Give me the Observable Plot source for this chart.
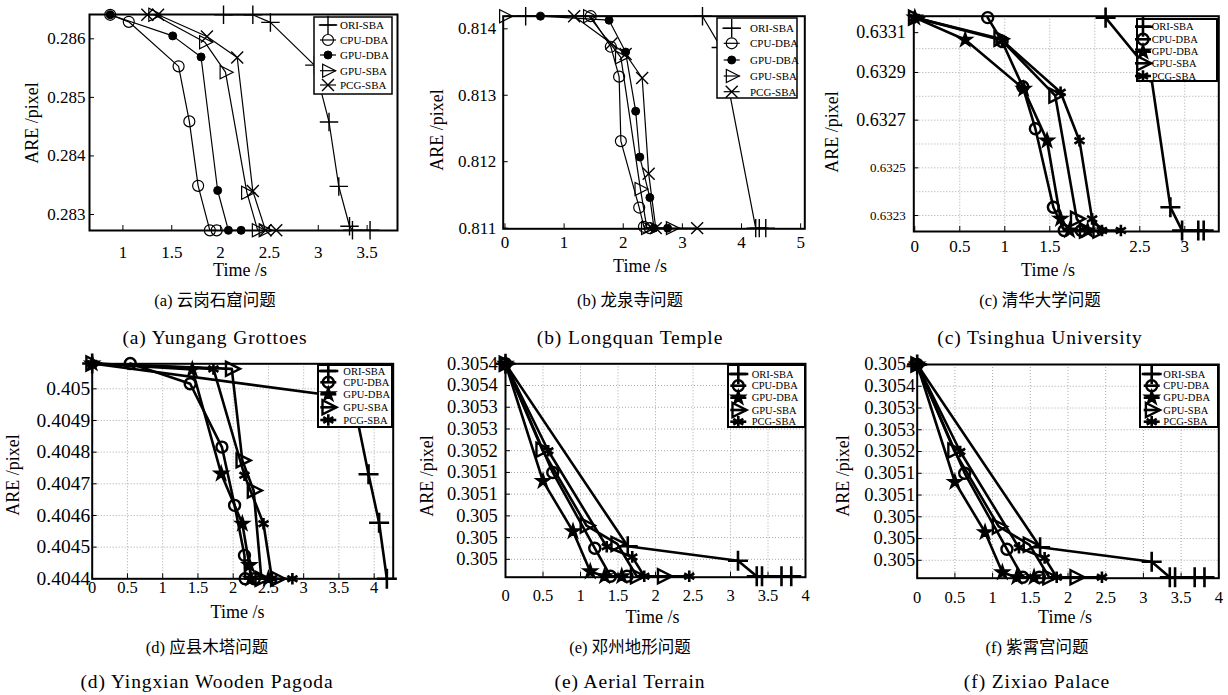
<!DOCTYPE html>
<html><head><meta charset="utf-8">
<script src="https://cdn.jsdelivr.net/npm/d3@7"></script>
<script src="https://cdn.jsdelivr.net/npm/@observablehq/plot@0.6"></script>
<style>
html,body{margin:0;padding:0;background:#fff;}
#wrap{position:relative;width:1228px;height:695px;overflow:hidden;background:#fff;}
</style></head><body><div id="wrap"></div>
<script>
const SERIES = ["ORI-SBA","CPU-DBA","GPU-DBA","GPU-SBA","PCG-SBA"];
const X_TITLE = "Time /s";
const Y_TITLE = "ARE /pixel";

// (a) Yungang Grottoes  [time s, ARE pixel]
const a_ORI  = [[2.03,0.28641],[2.33,0.28641],[2.51,0.28628],[2.96,0.28555],[3.11,0.28458],[3.21,0.28348],[3.32,0.28280],[3.35,0.28273],[3.53,0.28273]];
const a_CPU  = [[0.87,0.28641],[1.06,0.28629],[1.57,0.28553],[1.68,0.28459],[1.77,0.28349],[1.89,0.28273],[1.96,0.28273]];
const a_GDBA = [[0.87,0.28641],[1.51,0.28605],[1.80,0.28569],[1.97,0.28341],[2.08,0.28273],[2.21,0.28273]];
const a_GSBA = [[1.32,0.28641],[1.84,0.28594],[2.05,0.28543],[2.27,0.28337],[2.38,0.28273],[2.45,0.28273]];
const a_PCG  = [[1.25,0.28641],[1.36,0.28641],[1.86,0.28604],[2.17,0.28568],[2.33,0.28340],[2.46,0.28273],[2.57,0.28273]];
const aXTicks = [1,1.5,2,2.5,3,3.5];
const aXLabels = ["1","1.5","2","2.5","3","3.5"];
const aYTicks = [0.283,0.284,0.285,0.286];
const aYLabels = ["0.283","0.284","0.285","0.286"];

// (b) Longquan Temple
const b_ORI  = [[0.35,0.81419],[3.34,0.81419],[3.65,0.81372],[4.24,0.81100],[4.30,0.81100],[4.41,0.81100]];
const b_CPU  = [[1.45,0.81419],[1.79,0.81373],[1.93,0.81328],[1.96,0.81231],[2.27,0.81131],[2.35,0.81102],[2.45,0.81100]];
const b_GDBA = [[0.60,0.81419],[1.76,0.81413],[2.04,0.81365],[2.21,0.81276],[2.28,0.81207],[2.45,0.81146],[2.52,0.81100],[2.75,0.81100]];
const b_GSBA = [[0.00,0.81419],[1.42,0.81419],[1.96,0.81357],[2.29,0.81159],[2.40,0.81100],[2.82,0.81100]];
const b_PCG  = [[1.17,0.81419],[1.80,0.81378],[2.04,0.81362],[2.32,0.81326],[2.43,0.81182],[2.55,0.81100],[3.25,0.81100]];
const bXTicks = [0,1,2,3,4,5];
const bXLabels = ["0","1","2","3","4","5"];
const bYTicks = [0.811,0.812,0.813,0.814];
const bYLabels = ["0.811","0.812","0.813","0.814"];

// (c) Tsinghua University
const c_ORI  = [[2.12,0.63313],[2.62,0.63290],[2.84,0.632335],[2.97,0.632237],[3.15,0.632237],[3.21,0.632237]];
const c_CPU  = [[0.81,0.63313],[0.97,0.63303],[1.20,0.63284],[1.34,0.632664],[1.54,0.632335],[1.66,0.632237],[1.85,0.632237]];
const c_GDBA = [[0.00,0.63313],[0.56,0.633037],[1.21,0.632831],[1.47,0.632614],[1.62,0.632286],[1.72,0.632237],[1.92,0.632237]];
const c_GSBA = [[0.00,0.63313],[0.95,0.633041],[1.56,0.632803],[1.80,0.632286],[1.90,0.632237],[2.05,0.632237]];
const c_PCG  = [[0.00,0.63313],[0.97,0.633035],[1.62,0.632817],[1.83,0.632614],[1.97,0.632286],[2.08,0.632237],[2.29,0.632237]];
const cXTicks = [0,0.5,1,1.5,2.5,3];
const cXLabels = ["0","0.5","1","1.5","2.5","3"];
const cXGrid = [0.5,1,1.5,2,2.5,3];
const cYTicks = [0.6323,0.6325,0.6327,0.6329,0.633067];
const cYLabels = ["0.6323","0.6325","0.6327","0.6329","0.6331"];
const cYGrid = [0.6323,0.6324,0.6325,0.6326,0.6327,0.6328,0.6329,0.6330];

// (d) Yingxian Wooden Pagoda
const d_ORI  = [[0.00,0.40508],[3.70,0.40497],[3.92,0.40473],[4.07,0.404577],[4.18,0.40440]];
const d_CPU  = [[0.54,0.40508],[1.39,0.405016],[1.84,0.404816],[2.02,0.404632],[2.16,0.404474],[2.17,0.40440],[2.30,0.40440]];
const d_GDBA = [[0.00,0.40508],[1.42,0.405061],[1.83,0.404732],[2.13,0.404574],[2.23,0.404443],[2.25,0.40440],[2.50,0.40440]];
const d_GSBA = [[0.00,0.40508],[1.98,0.405063],[2.13,0.404774],[2.29,0.404679],[2.40,0.40440],[2.62,0.40440]];
const d_PCG  = [[0.00,0.40508],[1.72,0.405063],[2.16,0.404727],[2.43,0.404574],[2.55,0.40440],[2.84,0.40440]];
const dXTicks = [0,0.5,1,1.5,2,2.5,3,3.5,4];
const dXLabels = ["0","0.5","1","1.5","2","2.5","3","3.5","4"];
const dYTicks = [0.4044,0.4045,0.4046,0.4047,0.4048,0.4049,0.4050];
const dYLabels = ["0.4044","0.4045","0.4046","0.4047","0.4048","0.4049","0.405"];

// (e) Aerial Terrain
const e_ORI  = [[0.00,0.30542],[1.63,0.305042],[3.10,0.305012],[3.35,0.30498],[3.42,0.30498],[3.68,0.30498],[3.81,0.30498]];
const e_CPU  = [[0.00,0.30542],[0.63,0.305195],[1.19,0.305038],[1.40,0.30498],[1.62,0.30498]];
const e_GDBA = [[0.00,0.30542],[0.50,0.305177],[0.90,0.305073],[1.13,0.30499],[1.32,0.30498],[1.55,0.30498]];
const e_GSBA = [[0.00,0.30542],[0.49,0.305242],[1.08,0.305085],[1.49,0.305047],[1.75,0.30498],[2.11,0.30498]];
const e_PCG  = [[0.00,0.30542],[0.57,0.30524],[1.35,0.305041],[1.69,0.30502],[1.85,0.30498],[2.45,0.30498]];
const eXTicks = [0,0.5,1,1.5,2,2.5,3,3.5,4];
const eXLabels = ["0","0.5","1","1.5","2","2.5","3","3.5","4"];
const eYTicks = [0.30542,0.305375,0.30533,0.305285,0.30524,0.305195,0.30515,0.305105,0.30506,0.305015];
const eYLabels = ["0.3054","0.3054","0.3053","0.3053","0.3052","0.3051","0.3051","0.305","0.305","0.305"];

// (f) Zixiao Palace
const f_ORI  = [[0.00,0.30542],[1.63,0.305042],[3.11,0.305012],[3.35,0.30498],[3.42,0.30498],[3.68,0.30498],[3.81,0.30498]];
const f_CPU  = [[0.00,0.30542],[0.63,0.305195],[1.19,0.305038],[1.40,0.30498],[1.62,0.30498]];
const f_GDBA = [[0.00,0.30542],[0.50,0.305177],[0.90,0.305073],[1.13,0.30499],[1.32,0.30498],[1.55,0.30498]];
const f_GSBA = [[0.00,0.30542],[0.49,0.305242],[1.08,0.305085],[1.49,0.305047],[1.75,0.30498],[2.11,0.30498]];
const f_PCG  = [[0.00,0.30542],[0.57,0.30524],[1.35,0.305041],[1.69,0.30502],[1.85,0.30498],[2.45,0.30498]];
const fXTicks = eXTicks, fXLabels = eXLabels, fYTicks = eYTicks, fYLabels = eYLabels;

const captionsZh = ["(a) 云岗石窟问题","(b) 龙泉寺问题","(c) 清华大学问题","(d) 应县木塔问题","(e) 邓州地形问题","(f) 紫霄宫问题"];
const captionsEn = ["(a) Yungang Grottoes","(b) Longquan Temple","(c) Tsinghua University","(d) Yingxian Wooden Pagoda","(e) Aerial Terrain","(f) Zixiao Palace"];

// ---------- styling ----------
const SERIF = "Liberation Serif, Times New Roman, serif";
const triRight = { draw(ctx, size) { const s = Math.sqrt(size) * 0.72; ctx.moveTo(s, 0); ctx.lineTo(-s * 0.7, -s * 0.85); ctx.lineTo(-s * 0.7, s * 0.85); ctx.closePath(); } };
const THIN = { lw: 1.2, m: [
  {sym: d3.symbolPlus, r: 6, fill: "none", sw: 1.4},
  {sym: d3.symbolCircle, r: 5.5, fill: "none", sw: 1.2},
  {sym: d3.symbolCircle, r: 4, fill: "#000", sw: 1},
  {sym: triRight, r: 6, fill: "none", sw: 1.2},
  {sym: d3.symbolTimes, r: 5.5, fill: "none", sw: 1.4}]};
const THICK = { lw: 2.6, m: [
  {sym: d3.symbolPlus, r: 6.5, fill: "none", sw: 2.6},
  {sym: d3.symbolCircle, r: 5.5, fill: "none", sw: 2.4},
  {sym: d3.symbolStar, r: 4.5, fill: "#000", sw: 1.5},
  {sym: triRight, r: 6.5, fill: "none", sw: 2.4},
  {sym: d3.symbolAsterisk, r: 5.5, fill: "none", sw: 2.6}]};

const panels = [
 {series:[a_ORI,a_CPU,a_GDBA,a_GSBA,a_PCG], xT:aXTicks, xL:aXLabels, yT:aYTicks, yL:aYLabels, xG:null, yG:null,
  left:0, top:0, width:410, height:265, mL:89, mR:13, mT:14, mB:35, xDom:[0.658,3.811], yDom:[0.282727,0.286415],
  thick:false, xFont:17, yFont:17, xPad:15, yPad:4,
  lg:{x:314,y:17,w:78,h:77,rows:[25,40,55,70.7,85],mx:328,tx:340,fs:11},
  ylab:[32,123], xlab:[240,270], cap:[215,300,337]},
 {series:[b_ORI,b_CPU,b_GDBA,b_GSBA,b_PCG], xT:bXTicks, xL:bXLabels, yT:bYTicks, yL:bYLabels, xG:null, yG:null,
  left:410, top:0, width:405, height:265, mL:92.7, mR:10.7, mT:15.7, mB:36.7, xDom:[-0.03,5.07], yDom:[0.81099,0.81419],
  thick:false, xFont:17, yFont:17, xPad:7, yPad:7,
  lg:{x:717,y:18,w:80,h:80,rows:[28.3,43.3,60,76,91.7],mx:731.7,tx:750,fs:11},
  ylab:[437,130], xlab:[640,266], cap:[630,300,337]},
 {series:[c_ORI,c_CPU,c_GDBA,c_GSBA,c_PCG], xT:cXTicks, xL:cXLabels, yT:cYTicks, yL:cYLabels, xG:cXGrid, yG:cYGrid,
  left:815, top:0, width:413, height:265, mL:98.3, mR:9.7, mT:15.7, mB:34, xDom:[-0.011,3.378], yDom:[0.632233,0.633136],
  thick:true, xFont:17, yFont:18, xPad:8, yPad:8, small:["0.6325","0.6323"],
  lg:{x:1137,y:19,w:80,h:62,rows:[26.7,39.3,51.7,63.3,76],mx:1143,tx:1151.7,fs:10.5},
  ylab:[831.7,132], xlab:[1048,270], cap:[1040,300,337]},
 {series:[d_ORI,d_CPU,d_GDBA,d_GSBA,d_PCG], xT:dXTicks, xL:dXLabels, yT:dYTicks, yL:dYLabels, xG:dXTicks.slice(1), yG:dYTicks.slice(1),
  left:0, top:350, width:410, height:265, mL:91.7, mR:17.3, mT:13.3, mB:36.7, xDom:[0,4.27], yDom:[0.4044,0.405079],
  thick:true, xFont:16.5, yFont:19.5, xPad:2, yPad:2,
  lg:{x:318,y:365,w:74,h:62,rows:[371,382.3,394.3,407.3,420],mx:328.3,tx:343.3,fs:10.5},
  ylab:[13.3,475], xlab:[237.5,612], cap:[207,647,681]},
 {series:[e_ORI,e_CPU,e_GDBA,e_GSBA,e_PCG], xT:eXTicks, xL:eXLabels, yT:eYTicks, yL:eYLabels, xG:eXTicks.slice(1), yG:eYTicks.slice(1),
  left:410, top:350, width:405, height:265, mL:95, mR:10, mT:13.3, mB:38.3, xDom:[0,4], yDom:[0.304978,0.30542],
  thick:true, xFont:16.5, yFont:18.5, xPad:12, yPad:7.7,
  lg:{x:728,y:365,w:77,h:62,rows:[374,385.7,397.7,410,421.7],mx:738.3,tx:751.7,fs:10.5},
  ylab:[426.7,476], xlab:[652.5,617], cap:[630,647,681]},
 {series:[f_ORI,f_CPU,f_GDBA,f_GSBA,f_PCG], xT:fXTicks, xL:fXLabels, yT:fYTicks, yL:fYLabels, xG:fXTicks.slice(1), yG:fYTicks.slice(1),
  left:815, top:350, width:413, height:265, mL:101.7, mR:9.7, mT:14, mB:37.3, xDom:[0,4], yDom:[0.304978,0.30542],
  thick:true, xFont:16.5, yFont:18.5, xPad:13, yPad:2,
  lg:{x:1140,y:365,w:78,h:62,rows:[374,385.7,397.7,410,421.7],mx:1151.7,tx:1163.3,fs:10.5},
  ylab:[843.3,476], xlab:[1065,617], cap:[1037,647,681]}
];

const wrap = document.getElementById("wrap");
// overlay svg for axis titles and captions
const over = d3.create("svg").attr("width", 1228).attr("height", 695)
  .style("position", "absolute").style("left", "0px").style("top", "0px").style("pointer-events", "none");

function addText(txt, x, y, size, rotate, family, spacing) {
  const t = over.append("text")
    .attr("text-anchor", "middle").attr("dominant-baseline", "central")
    .attr("font-family", family || SERIF).attr("font-size", size).attr("fill", "#000")
    .attr("transform", `translate(${x},${y})` + (rotate ? " rotate(-90)" : ""))
    .text(txt);
  if (spacing) t.attr("letter-spacing", spacing);
}

function drawPanel(p, idx) {
  const st = p.thick ? THICK : THIN;
  const rows = [];
  p.series.forEach((pts, i) => pts.forEach(([t, v]) => rows.push({s: SERIES[i], t, v})));
  const fw = p.width - p.mL - p.mR, fh = p.height - p.mT - p.mB;
  const xl = new Map(p.xT.map((d, i) => [d, p.xL[i]]));
  const yl = new Map(p.yT.map((d, i) => [d, p.yL[i]]));
  const marks = [];
  if (p.xG) marks.push(Plot.ruleX(p.xG, {x: d => d, stroke: "#a8a8a8", strokeWidth: 1, strokeDasharray: "1,2"}));
  if (p.yG) marks.push(Plot.ruleY(p.yG, {y: d => d, stroke: "#a8a8a8", strokeWidth: 1, strokeDasharray: "1,2"}));
  marks.push(Plot.line(rows, {x: "t", y: "v", z: "s", stroke: "#000", strokeWidth: st.lw, strokeLinejoin: "round"}));
  SERIES.forEach((s, i) => {
    const m = st.m[i];
    marks.push(Plot.dot(rows.filter(d => d.s === s), {x: "t", y: "v", symbol: m.sym, r: m.r, fill: m.fill, stroke: "#000", strokeWidth: m.sw}));
  });
  marks.push(Plot.axisX(p.xT, {tickFormat: d => xl.get(d), tickSize: 0, tickPadding: p.xPad, fontSize: p.xFont, label: null}));
  marks.push(Plot.axisY(p.yT, {tickFormat: d => yl.get(d), tickSize: 0, tickPadding: p.yPad, fontSize: p.yFont, label: null}));
  marks.push(Plot.tickX(p.xT, {x: d => d, insetTop: fh - 5, stroke: "#000"}));
  marks.push(Plot.tickY(p.yT, {y: d => d, insetRight: fw - 5, stroke: "#000"}));
  marks.push(Plot.frame({stroke: "#000", strokeWidth: 2}));
  const svg = Plot.plot({
    width: p.width, height: p.height,
    marginLeft: p.mL, marginRight: p.mR, marginTop: p.mT, marginBottom: p.mB,
    x: {domain: p.xDom}, y: {domain: p.yDom},
    style: {fontFamily: SERIF, color: "#000", background: "none", overflow: "visible"},
    marks
  });
  svg.style.position = "absolute"; svg.style.left = p.left + "px"; svg.style.top = p.top + "px";
  if (p.small) svg.querySelectorAll("text").forEach(t => { if (p.small.includes(t.textContent)) t.style.fontSize = "13px"; });
  wrap.appendChild(svg);

  // legend
  const L = p.lg;
  const lg = d3.create("svg").attr("width", L.w + 4).attr("height", L.h + 4)
    .style("position", "absolute").style("left", (L.x - 2) + "px").style("top", (L.y - 2) + "px");
  lg.append("rect").attr("x", 2).attr("y", 2).attr("width", L.w).attr("height", L.h)
    .attr("fill", "#fff").attr("stroke", "#000").attr("stroke-width", p.thick ? 2 : 1.5);
  L.rows.forEach((ry, i) => {
    const cy = ry - L.y + 2, cx = L.mx - L.x + 2, m = st.m[i];
    lg.append("line").attr("x1", cx - 8).attr("x2", cx + 8).attr("y1", cy).attr("y2", cy)
      .attr("stroke", "#000").attr("stroke-width", st.lw);
    lg.append("path").attr("transform", `translate(${cx},${cy})`)
      .attr("d", d3.symbol(m.sym, Math.PI * m.r * m.r)())
      .attr("fill", m.fill).attr("stroke", "#000").attr("stroke-width", m.sw);
    lg.append("text").attr("x", L.tx - L.x + 2).attr("y", cy).attr("dy", "0.35em")
      .attr("font-family", SERIF).attr("font-size", L.fs).text(SERIES[i]);
  });
  wrap.appendChild(lg.node());

  addText(Y_TITLE, p.ylab[0], p.ylab[1], 18, true);
  addText(X_TITLE, p.xlab[0], p.xlab[1], 18, false);
  addText(captionsZh[idx], p.cap[0], p.cap[1], 16.5, false, "Liberation Serif, Noto Sans CJK SC, serif");
  addText(captionsEn[idx], p.cap[0], p.cap[2], 19.5, false, SERIF, 0.9);
}

panels.forEach(drawPanel);
wrap.appendChild(over.node());
</script></body></html>
